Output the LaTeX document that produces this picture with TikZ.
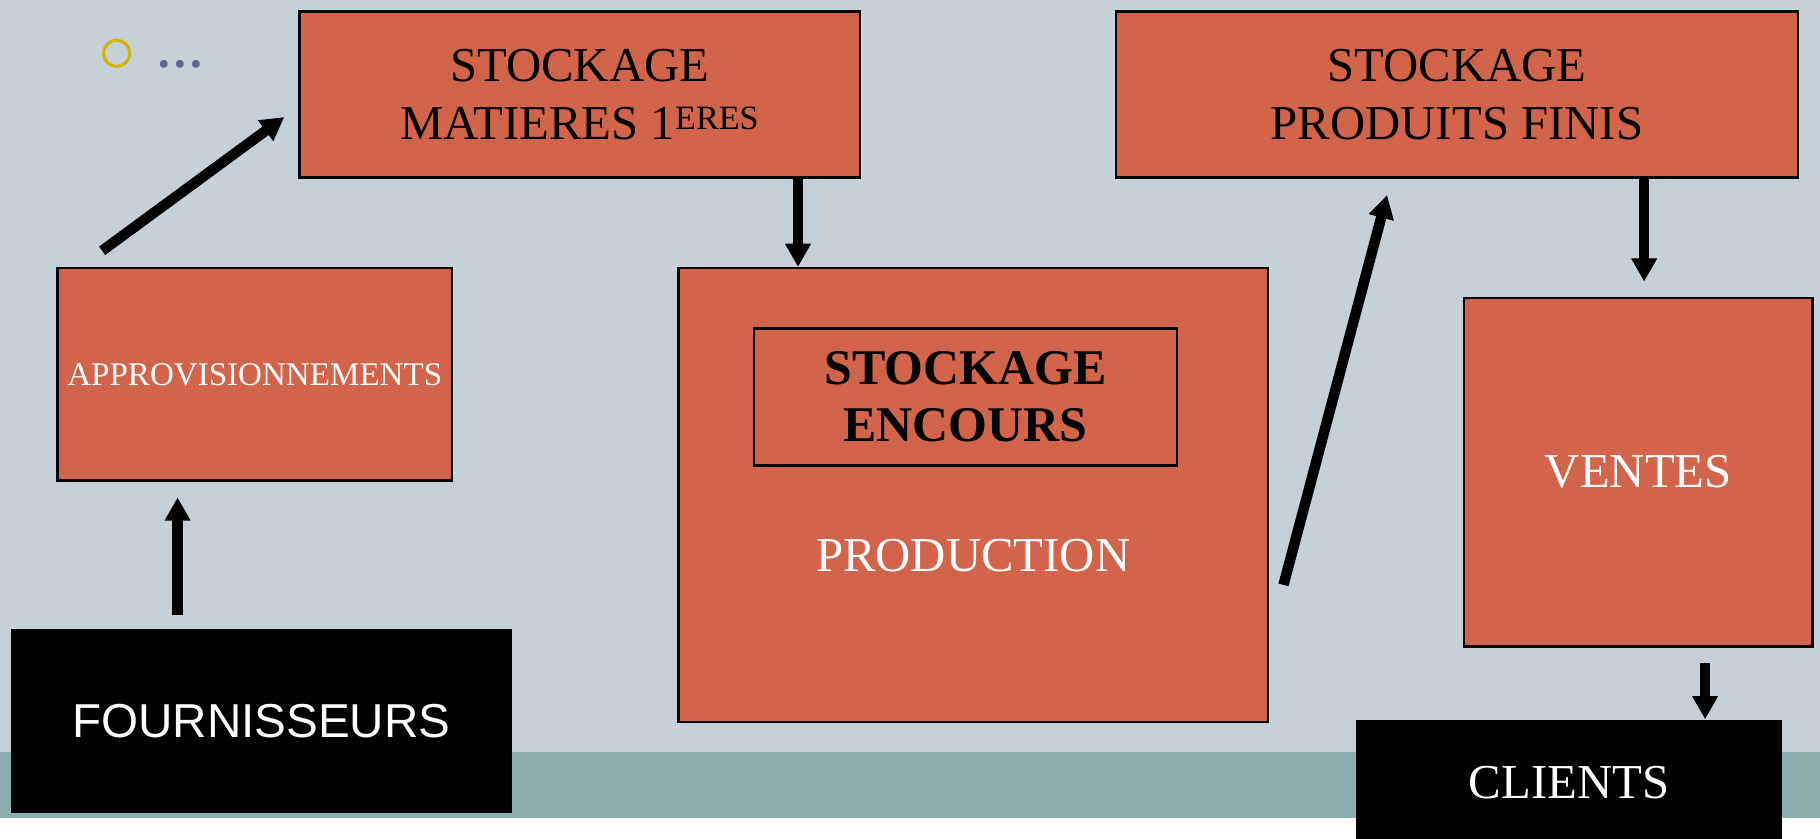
\documentclass[tikz,border=0pt]{standalone}
\usepackage{fontspec}
\setmainfont{Liberation Serif}
\newfontfamily\arialfont{Liberation Sans}
\usetikzlibrary{arrows.meta}

\definecolor{fondslide}{HTML}{C5D1D7}
\definecolor{bandeslide}{HTML}{8BADAE}
\definecolor{brique}{HTML}{D16449}
\definecolor{puce}{HTML}{D4B400}
\definecolor{points}{HTML}{5E6A85}

\tikzset{
	bloc/.style={draw=black, line width=2pt, fill=brique, inner sep=0pt,
		align=center, anchor=north west, font=\fontsize{42}{50}\selectfont},
	blocnoir/.style={fill=black, text=white, inner sep=0pt,
		align=center, anchor=north west, font=\fontsize{42}{50}\selectfont},
	fleche/.style={line width=9pt, -{Triangle[length=20pt,width=21pt]}}
}

\begin{document}
\begin{tikzpicture}[x=1pt, y=-1pt]
	\useasboundingbox (0,0) rectangle (1568,722);
	\clip (0,0) rectangle (1568,722);
	\fill[white] (0,0) rectangle (1568,722);
	\fill[fondslide] (0,0) rectangle (1568,647.6);
	\fill[bandeslide] (0,647.6) rectangle (1568,705);
	
	\node[circle, draw=puce, line width=2.6pt, minimum size=22.6pt, inner sep=0pt] (puce) at (100.5,45.9) {};
	\node[text=points, inner sep=0pt, font=\fontsize{41}{50}\selectfont\bfseries] (suite) at (155,55.4) {…};
	
	\node[bloc, minimum width=483pt, minimum height=143pt] (matieres) at (257,9) {STOCKAGE\\MATIERES 1\textsuperscript{ERES}};
	\node[bloc, minimum width=587.5pt, minimum height=143pt] (finis) at (960.5,9) {STOCKAGE\\PRODUITS FINIS};
	
	\node[bloc, minimum width=340pt, minimum height=183pt, text=white,
		font=\fontsize{28.5}{34}\selectfont] (appro) at (48.5,230) {APPROVISIONNEMENTS};
	\node[bloc, minimum width=508pt, minimum height=391pt] (production) at (583.5,230) {};
	\node[bloc, minimum width=364.5pt, minimum height=118pt,
		font=\fontsize{43}{49}\selectfont\bfseries] (encours) at (648.5,282) {STOCKAGE\\ENCOURS};
	\node[text=white, inner sep=0pt, font=\fontsize{42}{50}\selectfont] (prodtexte) at ([yshift=-52pt]production.center) {PRODUCTION};
	\node[bloc, minimum width=300pt, minimum height=300.4pt, text=white] (ventes) at (1260.5,255.6) {VENTES};
	
	\node[blocnoir, minimum width=432pt, minimum height=158pt,
		font=\arialfont\fontsize{41}{50}\selectfont] (fourn) at (9,542) {FOURNISSEURS};
	\node[blocnoir, minimum width=367.3pt, minimum height=109pt] (clients) at (1168,619.7) {CLIENTS};
	
	\draw[fleche, shorten <=12pt, shorten >=13.5pt] ([xshift=144pt]fourn.north west) -- ([xshift=104.5pt]appro.south west);
	\draw[fleche, shorten <=23.6pt, shorten >=15pt] ([xshift=20.5pt]appro.north west) -- ([yshift=-10.5pt]matieres.west);
	\draw[fleche] ([xshift=430.5pt]matieres.south west) -- ([xshift=104pt]production.north west);
	\draw[fleche, shorten <=47.7pt, shorten >=14.5pt] ([yshift=-123.5pt]production.east) -- ([xshift=238.3pt]finis.south west);
	\draw[fleche, shorten >=13pt] ([xshift=456pt]finis.south west) -- ([xshift=156pt]ventes.north west);
	\draw[fleche, shorten <=13pt] ([xshift=208.5pt]ventes.south west) -- ([xshift=301pt]clients.north west);
	
\end{tikzpicture}
\end{document}
